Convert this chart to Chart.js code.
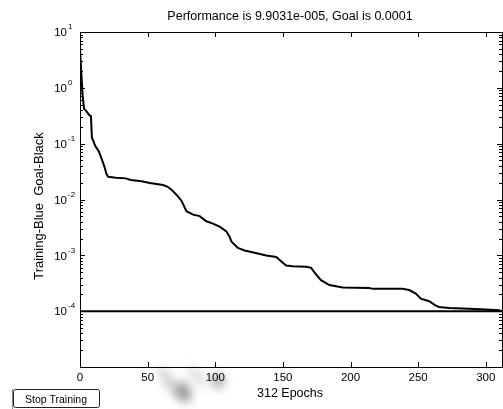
<!DOCTYPE html>
<html>
<head>
<meta charset="utf-8">
<script src="https://cdn.jsdelivr.net/npm/chart.js@4/dist/chart.umd.min.js"></script>
<style>
html,body{margin:0;padding:0;background:#fff;}
#wrap{width:503px;height:409px;position:relative;}
</style>
</head>
<body>
<div id="wrap"><canvas id="c" width="503" height="409"></canvas></div>
<script>
// ---- data ----
const epochs = [0,1,2,3,4.4,6.9,8.1,8.8,9.4,11.3,13.8,16.2,17.9,19.7,20.9,26.5,33.9,37.6,45.5,51.6,61.4,64.9,67.6,71.3,75.0,78.7,83.6,88.5,93.4,98.3,103.2,108.2,110.6,111.9,116.7,121.7,129.1,137.7,145.1,148.7,152.4,157.3,167.2,170.9,174.6,178.2,184.4,194.2,213.9,216.3,238.4,243.4,248.3,252.0,258.1,263.1,265.5,272.9,287.6,299.9,309.7,312];
const performance = [4.8,1.8,0.7,0.42,0.39,0.324,0.311,0.127,0.119,0.0906,0.0737,0.0521,0.0397,0.0281,0.0256,0.0245,0.0239,0.0223,0.0213,0.0197,0.0182,0.0169,0.0150,0.0122,0.00952,0.00618,0.00535,0.00504,0.00407,0.00370,0.00327,0.00269,0.00216,0.00178,0.00136,0.00122,0.00111,0.00099,0.000937,0.000783,0.000656,0.000637,0.000622,0.000597,0.000453,0.000358,0.000294,0.000265,0.000260,0.000251,0.000251,0.000239,0.000207,0.000167,0.000151,0.000126,0.000119,0.000114,0.000111,0.000107,0.000104,0.000099031];
const goalEpochs = [0, 312];
const goalValues = [0.0001, 0.0001];
const xTicks = [0,50,100,150,200,250,300];
const yExponents = [1,0,-1,-2,-3,-4];
const titleText = "Performance is 9.9031e-005, Goal is 0.0001";
const xLabel = "312 Epochs";
const yLabel = "Training-Blue  Goal-Black";
const buttonText = "Stop Training";

const FONT = '"Liberation Sans", Arial, sans-serif';

const decor = {
  id: 'decor',
  afterDraw(chart) {
    const ctx = chart.ctx;
    const a = chart.chartArea;
    const xs = chart.scales.x, ys = chart.scales.y;
    ctx.save();

    // smudge near bottom (photo artifact)
    ctx.save();
    ctx.filter = 'blur(5px)';
    ctx.fillStyle = 'rgba(0,0,0,0.2)';
    ctx.beginPath(); ctx.ellipse(170, 383, 5, 20, -0.6, 0, Math.PI*2); ctx.fill();
    ctx.fillStyle = 'rgba(0,0,0,0.38)';
    ctx.beginPath(); ctx.ellipse(184, 392, 7, 11, -0.3, 0, Math.PI*2); ctx.fill();
    ctx.fillStyle = 'rgba(0,0,0,0.3)';
    ctx.beginPath(); ctx.ellipse(218, 381, 7, 8, 0, 0, Math.PI*2); ctx.fill();
    ctx.fillStyle = 'rgba(0,0,0,0.14)';
    ctx.beginPath(); ctx.ellipse(197, 376, 5, 13, -0.7, 0, Math.PI*2); ctx.fill();
    ctx.restore();

    // box
    ctx.strokeStyle = '#000';
    ctx.lineWidth = 1;
    ctx.strokeRect(Math.round(a.left)+0.5, Math.round(a.top)+0.5, Math.round(a.right-a.left), Math.round(a.bottom-a.top));

    // x ticks (inward, top and bottom)
    ctx.beginPath();
    xTicks.forEach(v => {
      const px = Math.round(xs.getPixelForValue(v)) + 0.5;
      ctx.moveTo(px, a.bottom); ctx.lineTo(px, a.bottom - 5);
      ctx.moveTo(px, a.top); ctx.lineTo(px, a.top + 5);
    });
    // y ticks, major and minor, both sides
    for (let e = -5; e <= 1; e++) {
      for (let m = 1; m <= 9; m++) {
        const v = m * Math.pow(10, e);
        if (v < 1e-5 || v > 10) continue;
        const py = Math.round(ys.getPixelForValue(v)) + 0.5;
        const len = (m === 1) ? 5 : 3;
        ctx.moveTo(a.left, py); ctx.lineTo(a.left + len, py);
        ctx.moveTo(a.right, py); ctx.lineTo(a.right - len, py);
      }
    }
    ctx.stroke();

    // tick labels
    ctx.fillStyle = '#000';
    ctx.font = '11.5px ' + FONT;
    ctx.textAlign = 'center';
    ctx.textBaseline = 'middle';
    xTicks.forEach(v => {
      ctx.fillText(String(v), xs.getPixelForValue(v), 378);
    });
    yExponents.forEach(e => {
      const py = ys.getPixelForValue(Math.pow(10, e));
      ctx.font = '11.5px ' + FONT;
      ctx.textAlign = 'right';
      ctx.textBaseline = 'middle';
      ctx.fillText('10', 67, py + 1);
      ctx.font = '8px ' + FONT;
      ctx.textAlign = 'left';
      ctx.fillText(String(e), 68, py - 5);
    });

    // title & axis labels
    ctx.font = '12.5px ' + FONT;
    ctx.textAlign = 'center';
    ctx.textBaseline = 'middle';
    ctx.fillText(titleText, 290, 17);
    ctx.fillText(xLabel, 290, 394);
    ctx.save();
    ctx.font = '13px ' + FONT;
    ctx.translate(39, 206);
    ctx.rotate(-Math.PI/2);
    ctx.fillText(yLabel, 0, 0);
    ctx.restore();

    // Stop Training button
    ctx.strokeStyle = '#888';
    ctx.beginPath(); ctx.moveTo(12.5, 389); ctx.lineTo(12.5, 409); ctx.stroke();
    ctx.strokeStyle = '#222';
    ctx.beginPath();
    if (ctx.roundRect) ctx.roundRect(13.5, 389.5, 86, 18, 2); else ctx.rect(13.5, 389.5, 86, 18);
    ctx.stroke();
    ctx.font = '10.5px ' + FONT;
    ctx.fillStyle = '#000';
    ctx.fillText(buttonText, 56, 400);

    ctx.restore();
  }
};

const points = epochs.map((e, i) => ({x: e, y: performance[i]}));
const goalPoints = goalEpochs.map((e, i) => ({x: e, y: goalValues[i]}));

new Chart(document.getElementById('c'), {
  type: 'line',
  data: {
    datasets: [
      { label: 'Training', data: points, borderColor: '#000', borderWidth: 2, pointRadius: 0, tension: 0, fill: false },
      { label: 'Goal', data: goalPoints, borderColor: '#000', borderWidth: 2, pointRadius: 0, tension: 0, fill: false }
    ]
  },
  options: {
    responsive: false,
    animation: false,
    devicePixelRatio: 1,
    layout: { padding: { left: 80, right: 1, top: 32, bottom: 42 } },
    plugins: { legend: { display: false }, tooltip: { enabled: false }, title: { display: false } },
    scales: {
      x: { type: 'linear', min: 0, max: 312, display: false },
      y: { type: 'logarithmic', min: 1e-5, max: 10, display: false }
    }
  },
  plugins: [decor]
});
</script>
</body>
</html>
